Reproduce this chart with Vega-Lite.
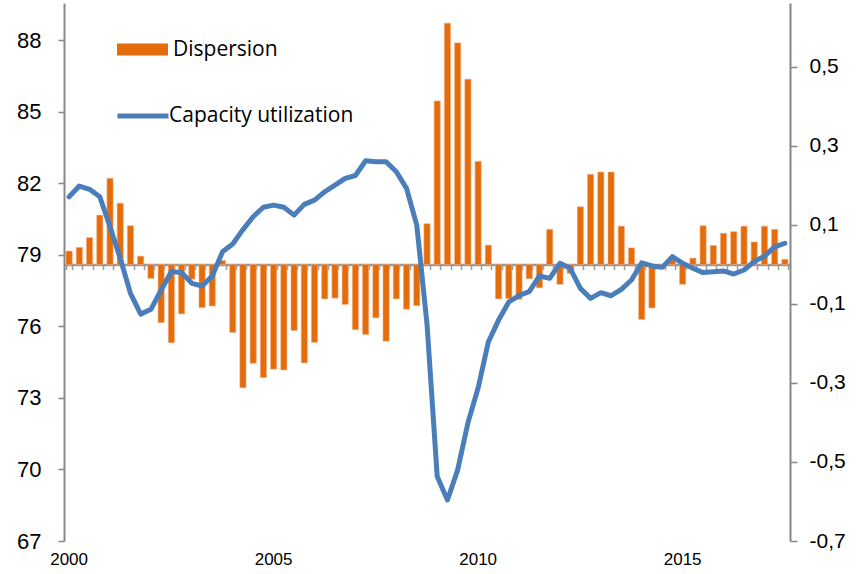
{
  "$schema": "https://vega.github.io/schema/vega-lite/v6.json",
  "autosize": {"type": "none"},
  "padding": {"left": 64, "top": 3, "right": 68, "bottom": 33},
  "width": 726,
  "height": 538,
  "background": "white",
  "config": {"view": {"stroke": null}, "axis": {"grid": false, "titleFont": "Liberation Sans", "labelFont": "Liberation Sans", "labelColor": "#000000"}},
  "data": {"values": [
    {"q": "2000Q1", "d": 0.034, "cu": 81.43},
    {"q": "2000Q2", "d": 0.043, "cu": 81.88},
    {"q": "2000Q3", "d": 0.068, "cu": 81.74},
    {"q": "2000Q4", "d": 0.125, "cu": 81.43},
    {"q": "2001Q1", "d": 0.218, "cu": 80.17},
    {"q": "2001Q2", "d": 0.155, "cu": 78.85},
    {"q": "2001Q3", "d": 0.098, "cu": 77.38},
    {"q": "2001Q4", "d": 0.021, "cu": 76.51},
    {"q": "2002Q1", "d": -0.035, "cu": 76.71},
    {"q": "2002Q2", "d": -0.147, "cu": 77.52},
    {"q": "2002Q3", "d": -0.198, "cu": 78.29},
    {"q": "2002Q4", "d": -0.125, "cu": 78.25},
    {"q": "2003Q1", "d": -0.037, "cu": 77.80},
    {"q": "2003Q2", "d": -0.109, "cu": 77.69},
    {"q": "2003Q3", "d": -0.105, "cu": 78.11},
    {"q": "2003Q4", "d": 0.010, "cu": 79.12},
    {"q": "2004Q1", "d": -0.172, "cu": 79.45},
    {"q": "2004Q2", "d": -0.312, "cu": 80.05},
    {"q": "2004Q3", "d": -0.250, "cu": 80.59},
    {"q": "2004Q4", "d": -0.286, "cu": 80.99},
    {"q": "2005Q1", "d": -0.265, "cu": 81.08},
    {"q": "2005Q2", "d": -0.267, "cu": 80.99},
    {"q": "2005Q3", "d": -0.167, "cu": 80.66},
    {"q": "2005Q4", "d": -0.249, "cu": 81.11},
    {"q": "2006Q1", "d": -0.197, "cu": 81.29},
    {"q": "2006Q2", "d": -0.087, "cu": 81.64},
    {"q": "2006Q3", "d": -0.085, "cu": 81.92},
    {"q": "2006Q4", "d": -0.101, "cu": 82.20},
    {"q": "2007Q1", "d": -0.165, "cu": 82.32},
    {"q": "2007Q2", "d": -0.177, "cu": 82.94},
    {"q": "2007Q3", "d": -0.135, "cu": 82.90},
    {"q": "2007Q4", "d": -0.194, "cu": 82.90},
    {"q": "2008Q1", "d": -0.087, "cu": 82.48},
    {"q": "2008Q2", "d": -0.113, "cu": 81.78},
    {"q": "2008Q3", "d": -0.104, "cu": 80.24},
    {"q": "2008Q4", "d": 0.103, "cu": 76.10},
    {"q": "2009Q1", "d": 0.414, "cu": 69.70},
    {"q": "2009Q2", "d": 0.611, "cu": 68.72},
    {"q": "2009Q3", "d": 0.561, "cu": 69.98},
    {"q": "2009Q4", "d": 0.469, "cu": 71.95},
    {"q": "2010Q1", "d": 0.261, "cu": 73.41},
    {"q": "2010Q2", "d": 0.049, "cu": 75.34},
    {"q": "2010Q3", "d": -0.087, "cu": 76.26},
    {"q": "2010Q4", "d": -0.086, "cu": 77.02},
    {"q": "2011Q1", "d": -0.088, "cu": 77.29},
    {"q": "2011Q2", "d": -0.036, "cu": 77.45},
    {"q": "2011Q3", "d": -0.059, "cu": 78.11},
    {"q": "2011Q4", "d": 0.089, "cu": 78.01},
    {"q": "2012Q1", "d": -0.050, "cu": 78.64},
    {"q": "2012Q2", "d": -0.022, "cu": 78.43},
    {"q": "2012Q3", "d": 0.146, "cu": 77.59},
    {"q": "2012Q4", "d": 0.228, "cu": 77.17},
    {"q": "2013Q1", "d": 0.234, "cu": 77.41},
    {"q": "2013Q2", "d": 0.234, "cu": 77.28},
    {"q": "2013Q3", "d": 0.097, "cu": 77.55},
    {"q": "2013Q4", "d": 0.042, "cu": 77.94},
    {"q": "2014Q1", "d": -0.139, "cu": 78.66},
    {"q": "2014Q2", "d": -0.110, "cu": 78.53},
    {"q": "2014Q3", "d": -0.010, "cu": 78.47},
    {"q": "2014Q4", "d": 0.020, "cu": 78.92},
    {"q": "2015Q1", "d": -0.050, "cu": 78.64},
    {"q": "2015Q2", "d": 0.016, "cu": 78.43},
    {"q": "2015Q3", "d": 0.098, "cu": 78.25},
    {"q": "2015Q4", "d": 0.048, "cu": 78.29},
    {"q": "2016Q1", "d": 0.079, "cu": 78.32},
    {"q": "2016Q2", "d": 0.083, "cu": 78.19},
    {"q": "2016Q3", "d": 0.097, "cu": 78.36},
    {"q": "2016Q4", "d": 0.057, "cu": 78.71},
    {"q": "2017Q1", "d": 0.097, "cu": 78.94},
    {"q": "2017Q2", "d": 0.089, "cu": 79.33},
    {"q": "2017Q3", "d": 0.013, "cu": 79.48}
  ]},
  "layer": [
    {
      "mark": {"type": "bar", "stroke": "#F5A878", "strokeWidth": 0.6},
      "encoding": {
        "x": {"field": "q", "type": "ordinal", "sort": null,
              "scale": {"paddingInner": 0.4, "paddingOuter": 0.2},
              "axis": {"orient": "bottom", "title": null, "domain": false, "ticks": false, "labelAngle": 0, "labelOverlap": false,
                       "labelFontSize": 17, "labelPadding": 10, "labelBaseline": "top", "labelDx": 4,
                       "labelExpr": "indexof(['2000Q1','2005Q1','2010Q1','2015Q1'], datum.value) >= 0 ? slice(datum.value, 0, 4) : ''"}},
        "y": {"field": "d", "type": "quantitative",
              "scale": {"domain": [-0.7, 0.662], "nice": false, "zero": false},
              "axis": {"orient": "right", "title": null, "values": [-0.7, -0.5, -0.3, -0.1, 0.1, 0.3, 0.5],
                       "labelExpr": "(datum.value < 0 ? '-' : '') + replace(format(abs(datum.value), '.1f'), '.', ',')",
                       "labelFontSize": 21, "labelAlign": "left", "labelPadding": 12, "tickSize": 7,
                       "domainColor": "#878787", "domainWidth": 2, "tickColor": "#878787", "tickWidth": 1.5}},
        "fill": {"datum": "Dispersion", "type": "nominal",
                 "scale": {"domain": ["Dispersion"], "range": ["#E46C0A"]},
                 "legend": {"title": null, "orient": "none", "legendX": 53, "legendY": 21, "padding": 0,
                            "symbolType": "M-1,-0.235H1V0.235H-1Z", "symbolSize": 2601, "symbolStrokeWidth": 0,
                            "labelFont": "Open Sans", "labelFontSize": 21, "labelColor": "#000000", "labelOffset": 5, "labelLimit": 400}}
      }
    },
    {
      "mark": {"type": "line", "strokeWidth": 5, "strokeCap": "round", "strokeJoin": "round"},
      "encoding": {
        "x": {"field": "q", "type": "ordinal", "sort": null,
              "axis": {"orient": "bottom", "title": null, "offset": -276.5, "labels": false, "domain": true,
                       "domainColor": "#9a9a9a", "domainWidth": 2.5, "ticks": true, "tickBand": "extent",
                       "tickSize": 5, "tickColor": "#9a9a9a", "tickWidth": 1.5}},
        "y": {"field": "cu", "type": "quantitative",
              "scale": {"domain": [67, 89.551], "nice": false, "zero": false},
              "axis": {"orient": "left", "title": null, "values": [67, 70, 73, 76, 79, 82, 85, 88],
                       "labelFontSize": 22, "labelPadding": 17, "tickSize": 6,
                       "domainColor": "#878787", "domainWidth": 2, "tickColor": "#878787", "tickWidth": 1.5}},
        "stroke": {"datum": "Capacity utilization", "type": "nominal",
                   "scale": {"domain": ["Capacity utilization"], "range": ["#4A7EBB"]},
                   "legend": {"title": null, "orient": "none", "legendX": 51, "legendY": 85, "padding": 0,
                              "symbolType": "stroke", "symbolSize": 2601, "symbolStrokeWidth": 5,
                              "labelFont": "Open Sans", "labelFontSize": 21, "labelColor": "#000000", "labelOffset": -2, "labelLimit": 400}}
      }
    }
  ],
  "resolve": {"scale": {"y": "independent"}, "axis": {"x": "independent"}}
}
